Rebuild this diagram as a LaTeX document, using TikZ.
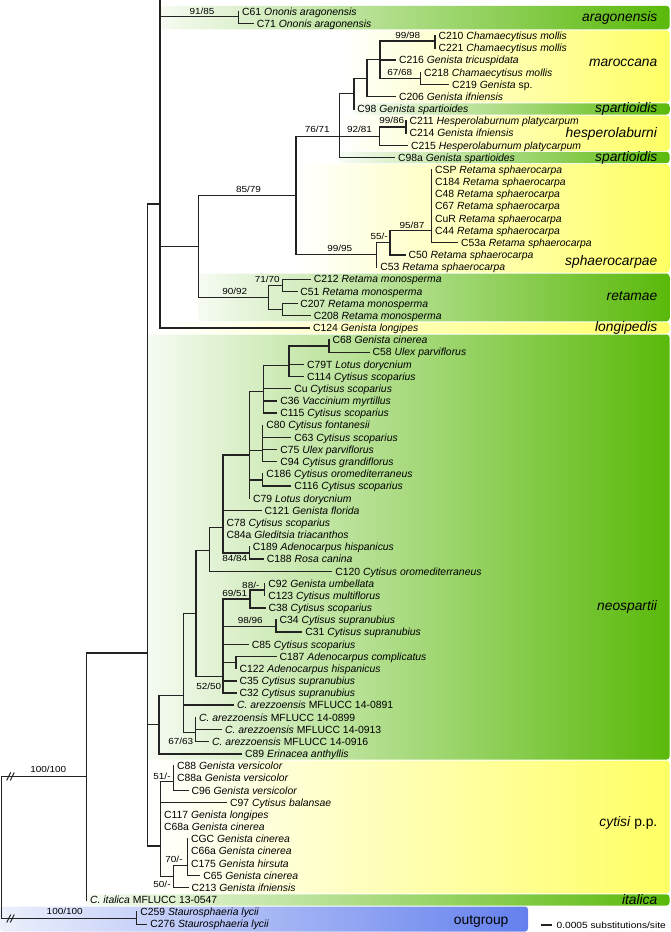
\documentclass[tikz,border=0pt]{standalone}
\usepackage{fontspec}
\setmainfont{Liberation Sans}
\newfontfamily\widefont[FakeStretch=1.13]{Liberation Sans}
\definecolor{bandgreen}{RGB}{90,185,10}
\definecolor{paleGreen}{RGB}{246,251,242}
\definecolor{bandyellow}{RGB}{255,255,100}
\definecolor{bandblue}{RGB}{100,128,238}
\definecolor{paleBlue}{RGB}{236,240,252}
\definecolor{branchgray}{RGB}{35,35,35}
% row position of leaf #1 (pixels, downwards)
\newcommand{\ry}[1]{11.5+12.17*(#1-1)}

\begin{document}
\begin{tikzpicture}[x=1pt, y=-1pt,
    branch/.style={line width=1.4pt, draw=branchgray, line cap=rect},
    leaf/.style={anchor=west, inner xsep=3.4pt, inner ysep=0pt, text height=7.4pt,
      text depth=0pt, font=\fontsize{10.4}{12}\selectfont},
    supp/.style={inner sep=0pt, text height=6.3pt, text depth=0pt,
      font=\widefont\fontsize{8.8}{10}\selectfont},
    clade/.style={anchor=base east, inner sep=0pt, font=\fontsize{13.8}{15}\selectfont},
    greenband/.style={left color=paleGreen, right color=bandgreen, rounded corners=3pt},
    yellowband/.style={left color=white, right color=bandyellow, rounded corners=3pt},
    blueband/.style={left color=paleBlue, right color=bandblue, rounded corners=3pt}]

    \useasboundingbox (0,0) rectangle (671,932);

    % Clade bands
    \shade[greenband]  (160,5.9)   rectangle (669.5,29.3);
    \shade[yellowband] (340,30.3)  rectangle (669.5,102.3);
    \shade[greenband]  (353,103.3) rectangle (669.5,114.5);
    \shade[yellowband] (340,115.5) rectangle (669.5,150.9);
    \shade[greenband]  (340,151.9) rectangle (669.5,163.1);
    \shade[yellowband] (296,164.1) rectangle (669.5,272.6);
    \shade[greenband]  (198,273.6) rectangle (669.5,321.3);
    \shade[yellowband] (160,322.3) rectangle (669.5,333.5);
    \shade[greenband]  (147,334.5) rectangle (669.5,759.5);
    \shade[yellowband] (147,760.5) rectangle (669.5,893.3);
    \shade[greenband]  (86,894.3)  rectangle (669.5,905.5);
    \shade[blueband]   (0,906.5)   rectangle (528,931.5);

    % Internal nodes
    \coordinate (nRoot) at (1.5,847.5);
    \coordinate (nD)    at (86.5,776.4);
    \coordinate (nOG)   at (136.7,918.5);
    \coordinate (nC)    at (147.3,653);
    \coordinate (nTop)  at (160,204);
    \coordinate (topEnd) at (160,0);
    \coordinate (nArag) at (238.6,16.5);
    \coordinate (nB)    at (198.3,246.4);
    \coordinate (nE)    at (296,195.2);
    \coordinate (nF)    at (339.5,136.2);
    \coordinate (nK)    at (353.8,93.6);
    \coordinate (nJ)    at (367,78.2);
    \coordinate (nI)    at (380,59.7);
    \coordinate (n9998) at (435,40.8);
    \coordinate (n6768) at (420.5,78.4);
    \coordinate (nH)    at (379.3,136.2);
    \coordinate (nL)    at (406,127.1);
    \coordinate (nG)    at (376.7,254.3);
    \coordinate (nM)    at (390,242.7);
    \coordinate (nN)    at (431.5,230.6);
    \coordinate (nRT)   at (268.3,297.5);
    \coordinate (nRA)   at (282.3,285.3);
    \coordinate (nRB)   at (282.3,309.7);
    \coordinate (nAG)   at (159,724.3);
    \coordinate (nAA)   at (183.3,695.5);
    \coordinate (nAF)   at (195.5,732.6);
    \coordinate (nY)    at (196,613.7);
    \coordinate (nX)    at (209.5,550.7);
    \coordinate (nV)    at (223,527.3);
    \coordinate (nW)    at (249.3,552.9);
    \coordinate (nS)    at (249.6,455);
    \coordinate (nR)    at (263.3,391.7);
    \coordinate (nQ)    at (289,365.7);
    \coordinate (nP)    at (329,346);
    \coordinate (nT)    at (262.7,450.7);
    \coordinate (nU)    at (262.7,480);
    \coordinate (nZ)    at (223,676.7);
    \coordinate (nAB)   at (250,599);
    \coordinate (nAE)   at (264.7,589.9);
    \coordinate (nAC)   at (276,626.2);
    \coordinate (nAD)   at (236,662.6);
    \coordinate (nCY)   at (160.5,846);
    \coordinate (nN51)  at (173.5,781.3);
    \coordinate (nN50)  at (173.5,876.7);
    \coordinate (nN70)  at (187.5,865.3);

    % Branches between internal nodes
    \foreach \p/\c in {nRoot/nD, nRoot/nOG, nD/nC, nC/nTop, nC/nAG, nC/nCY,
        nTop/topEnd, nTop/nArag, nTop/nB, nB/nE, nB/nRT, nE/nF, nE/nG,
        nF/nK, nF/nH, nK/nJ, nJ/nI, nI/n9998, nI/n6768, nH/nL, nG/nM, nM/nN,
        nRT/nRA, nRT/nRB, nAG/nAA, nAA/nY, nAA/nAF, nY/nX, nY/nZ, nX/nV,
        nV/nS, nV/nW, nS/nR, nS/nT, nS/nU, nR/nQ, nQ/nP, nZ/nAB, nZ/nAC,
        nZ/nAD, nAB/nAE, nCY/nN51, nCY/nN50, nN50/nN70}
      \draw[branch] (\p) |- (\c);

    % Leaves: name/parent/row/tip x/text
    \foreach \n/\p/\r/\x/\t in {
        c61/nArag/1/238.6/{C61 \textit{Ononis aragonensis}},
        c71/nArag/2/253.3/{C71 \textit{Ononis aragonensis}},
        c210/n9998/3/435/{C210 \textit{Chamaecytisus mollis}},
        c221/n9998/4/435/{C221 \textit{Chamaecytisus mollis}},
        c216/nI/5/395.5/{C216 \textit{Genista tricuspidata}},
        c218/n6768/6/420.5/{C218 \textit{Chamaecytisus mollis}},
        c219/n6768/7/448.5/{C219 \textit{Genista} sp.},
        c206/nJ/8/395.5/{C206 \textit{Genista ifniensis}},
        c98/nK/9/353.8/{C98 \textit{Genista spartioides}},
        c211/nL/10/406/{C211 \textit{Hesperolaburnum platycarpum}},
        c214/nL/11/406/{C214 \textit{Genista ifniensis}},
        c215/nH/12/407.5/{C215 \textit{Hesperolaburnum platycarpum}},
        c98a/nF/13/394.5/{C98a \textit{Genista spartioides}},
        csp/nN/14/431.5/{CSP \textit{Retama sphaerocarpa}},
        c184/nN/15/431.5/{C184 \textit{Retama sphaerocarpa}},
        c48/nN/16/431.5/{C48 \textit{Retama sphaerocarpa}},
        c67/nN/17/431.5/{C67 \textit{Retama sphaerocarpa}},
        cur/nN/18/431.5/{CuR \textit{Retama sphaerocarpa}},
        c44/nN/19/431.5/{C44 \textit{Retama sphaerocarpa}},
        c53a/nN/20/457.5/{C53a \textit{Retama sphaerocarpa}},
        c50/nM/21/405/{C50 \textit{Retama sphaerocarpa}},
        c53/nG/22/376.7/{C53 \textit{Retama sphaerocarpa}},
        c212/nRA/23/310.3/{C212 \textit{Retama monosperma}},
        c51/nRA/24/296.8/{C51 \textit{Retama monosperma}},
        c207/nRB/25/296.8/{C207 \textit{Retama monosperma}},
        c208/nRB/26/310.3/{C208 \textit{Retama monosperma}},
        c124/nTop/27/309.5/{C124 \textit{Genista longipes}},
        c68/nP/28/329/{C68 \textit{Genista cinerea}},
        c58/nP/29/369/{C58 \textit{Ulex parviflorus}},
        c79t/nQ/30/303.5/{C79T \textit{Lotus dorycnium}},
        c114/nQ/31/303.5/{C114 \textit{Cytisus scoparius}},
        cu/nR/32/290.7/{Cu \textit{Cytisus scoparius}},
        c36/nR/33/276.7/{C36 \textit{Vaccinium myrtillus}},
        c115/nR/34/276.7/{C115 \textit{Cytisus scoparius}},
        c80/nT/35/262.7/{C80 \textit{Cytisus fontanesii}},
        c63/nT/36/290.7/{C63 \textit{Cytisus scoparius}},
        c75/nT/37/276.7/{C75 \textit{Ulex parviflorus}},
        c94/nT/38/276.7/{C94 \textit{Cytisus grandiflorus}},
        c186/nU/39/262.7/{C186 \textit{Cytisus oromediterraneus}},
        c116/nU/40/290.7/{C116 \textit{Cytisus scoparius}},
        c79/nS/41/249.6/{C79 \textit{Lotus dorycnium}},
        c121/nV/42/261/{C121 \textit{Genista florida}},
        c78/nV/43/223/{C78 \textit{Cytisus scoparius}},
        c84a/nV/44/223/{C84a \textit{Gleditsia triacanthos}},
        c189/nW/45/249.3/{C189 \textit{Adenocarpus hispanicus}},
        c188/nW/46/263.3/{C188 \textit{Rosa canina}},
        c120/nX/47/331.7/{C120 \textit{Cytisus oromediterraneus}},
        c92/nAE/48/264.7/{C92 \textit{Genista umbellata}},
        c123/nAE/49/264.7/{C123 \textit{Cytisus multiflorus}},
        c38/nAB/50/265/{C38 \textit{Cytisus scoparius}},
        c34/nAC/51/276/{C34 \textit{Cytisus supranubius}},
        c31/nAC/52/301.7/{C31 \textit{Cytisus supranubius}},
        c85/nZ/53/248.3/{C85 \textit{Cytisus scoparius}},
        c187/nAD/54/276/{C187 \textit{Adenocarpus complicatus}},
        c122/nAD/55/236/{C122 \textit{Adenocarpus hispanicus}},
        c35/nZ/56/236/{C35 \textit{Cytisus supranubius}},
        c32/nZ/57/236/{C32 \textit{Cytisus supranubius}},
        ca891/nAA/58/233.5/{\textit{C. arezzoensis} MFLUCC 14-0891},
        ca899/nAF/59/195.5/{\textit{C. arezzoensis} MFLUCC 14-0899},
        ca913/nAF/60/221.5/{\textit{C. arezzoensis} MFLUCC 14-0913},
        ca916/nAF/61/208.5/{\textit{C. arezzoensis} MFLUCC 14-0916},
        c89/nAG/62/241.5/{C89 \textit{Erinacea anthyllis}},
        c88/nN51/63/173.5/{C88 \textit{Genista versicolor}},
        c88a/nN51/64/173.5/{C88a \textit{Genista versicolor}},
        c96/nN51/65/188/{C96 \textit{Genista versicolor}},
        c97/nCY/66/226.5/{C97 \textit{Cytisus balansae}},
        c117/nCY/67/160.5/{C117 \textit{Genista longipes}},
        c68a/nCY/68/160.5/{C68a \textit{Genista cinerea}},
        cgc/nN70/69/187.5/{CGC \textit{Genista cinerea}},
        c66a/nN70/70/187.5/{C66a \textit{Genista cinerea}},
        c175/nN70/71/187.5/{C175 \textit{Genista hirsuta}},
        c65/nN70/72/199.7/{C65 \textit{Genista cinerea}},
        c213/nN50/73/188/{C213 \textit{Genista ifniensis}},
        cital/nD/74/86.5/{\textit{C. italica} MFLUCC 13-0547},
        c259/nOG/75/136.7/{C259 \textit{Staurosphaeria lycii}},
        c276/nOG/76/146.7/{C276 \textit{Staurosphaeria lycii}}}
    {
      \node[leaf] (\n) at (\x,{\ry{\r}}) {\t};
      \draw[branch] (\p) |- (\n.west);
    }

    % Support values
    \foreach \t/\x/\y [count=\k] in {{91/85}/202/11.5, {99/98}/407.7/35.5,
        {67/68}/399.7/72, {76/71}/317.2/129.3, {92/81}/359.5/129.3,
        {99/86}/391.7/120.7, {85/79}/248.5/189.3, {99/95}/339.7/248.3,
        {55/-}/379.2/236.7, {95/87}/412/225, {71/70}/267.2/279,
        {90/92}/234.7/291.7, {84/84}/234.7/558.3, {88/-}/250.8/585,
        {69/51}/234.7/593.3, {98/96}/250.3/620.7, {52/50}/208.7/686,
        {67/63}/180.8/741.7, {51/-}/162/776, {70/-}/174/859.5,
        {50/-}/162/884, {100/100}/48.3/769.3, {100/100}/64.7/911.7}
      \node[supp] (bs\k) at (\x,\y) {\t};

    % Break marks on the two basal branches
    \foreach \y in {776.4, 918.5} {
      \draw[branchgray, line width=1pt] (6.7,\y+4) -- (10.7,\y-4);
      \draw[branchgray, line width=1pt] (10.3,\y+4) -- (14.3,\y-4);
    }

    % Clade names
    \node[clade] (lArag)   at (657.5,21.5)  {\textit{aragonensis}};
    \node[clade] (lMaroc)  at (657.5,66.5)  {\textit{maroccana}};
    \node[clade] (lSpartA) at (657.5,112)   {\textit{spartioidis}};
    \node[clade] (lHesp)   at (657.5,137.5) {\textit{hesperolaburni}};
    \node[clade] (lSpartB) at (657.5,161.5) {\textit{spartioidis}};
    \node[clade] (lSphaer) at (657.5,265.7) {\textit{sphaerocarpae}};
    \node[clade] (lRet)    at (657.5,300.7) {\textit{retamae}};
    \node[clade] (lLong)   at (657.5,331.7) {\textit{longipedis}};
    \node[clade] (lNeo)    at (657.5,610.7) {\textit{neospartii}};
    \node[clade] (lCyt)    at (657.5,826)   {\textit{cytisi} p.p.};
    \node[clade] (lItal)   at (657.5,904.5) {\textit{italica}};
    \node[clade] (lOut)    at (508.6,924.5) {outgroup};

    % Scale bar
    \coordinate (sbL) at (541.6,925);
    \coordinate (sbR) at (551.5,925);
    \draw[branch] (sbL) -- (sbR);
    \node[anchor=west, inner sep=0pt, font=\widefont\fontsize{9}{10}\selectfont]
      (sbText) at (556.5,925) {0.0005 substitutions/site};
\end{tikzpicture}
\end{document}
